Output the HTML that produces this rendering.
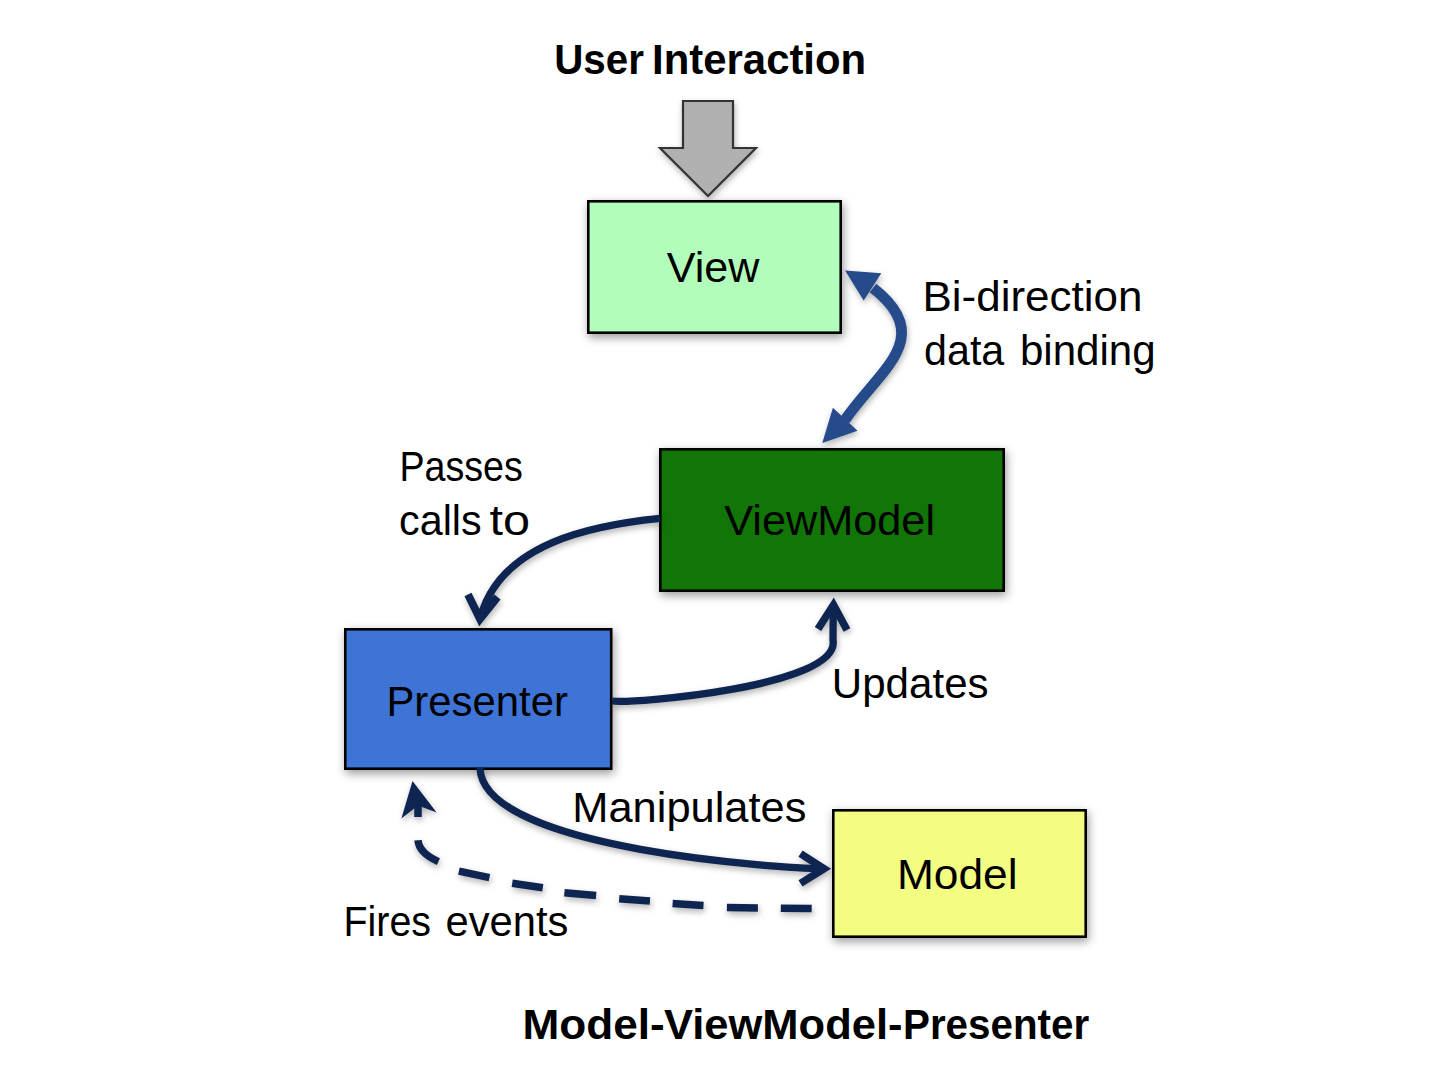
<!DOCTYPE html>
<html><head><meta charset="utf-8"><style>
html,body{margin:0;padding:0;background:#fff;}
svg{display:block;}
text{font-family:"Liberation Sans",sans-serif;font-size:43px;fill:#000;}
</style></head><body>
<svg width="1440" height="1080" viewBox="0 0 1440 1080">
<defs>
<filter id="sh" color-interpolation-filters="sRGB" x="-20%" y="-20%" width="140%" height="150%">
<feDropShadow dx="1.5" dy="3.5" stdDeviation="5" flood-color="#000" flood-opacity="0.4"/>
</filter>
<filter id="sha" color-interpolation-filters="sRGB" x="-30%" y="-30%" width="160%" height="160%">
<feDropShadow dx="1" dy="3" stdDeviation="3" flood-color="#000" flood-opacity="0.3"/>
</filter>
</defs>
<rect width="1440" height="1080" fill="#fff"/>
<!-- gray arrow -->
<path d="M683 101 L733 101 L733 148 L756 148 L708 196 L660 148 L683 148 Z" fill="#b0b0b0" stroke="#333" stroke-width="2.2" stroke-linejoin="miter" filter="url(#sha)"/>
<!-- boxes -->
<g filter="url(#sh)" stroke="#000" stroke-width="2.6">
<rect x="588.3" y="201.3" width="252.4" height="131.4" fill="#b2fdbb"/>
<rect x="660.3" y="449.3" width="343.4" height="141.4" fill="#117507"/>
<rect x="345.3" y="629.3" width="265.9" height="139.4" fill="#3d74d5"/>
<rect x="833.3" y="810.3" width="252.4" height="126.4" fill="#f3fd81"/>
</g>
<!-- arrows -->
<g filter="url(#sha)" fill="none" stroke="#0f2551" stroke-width="7.3">
<path d="M660 518.3 C594.7 524.9 499.4 542.1 480 619"/>
<path d="M468 594.5 L480 619 L497.5 597" stroke-linejoin="miter" stroke-width="7.8"/>
<path d="M612 701 C631 704 841.5 686.8 833 640 L833.3 606"/>
<path d="M818 629 L833.5 605 L847 630" stroke-linejoin="miter" stroke-width="7.6"/>
<path d="M480 768 C482.7 850.8 790.5 868.7 824 868.6"/>
<path d="M800.5 853.6 L824 868.7 L800.5 883.4" stroke-linejoin="miter" stroke-width="7.6"/>
<path d="M811.7 908.4 L780.8 908.2 M757.9 907.9 L726.9 907.6 M703.5 905.6 L672.6 903.6 M650 901 L619.2 898.8 M596.1 895.6 L564.4 892.8 M542.8 887.8 L512.2 883.3 M489.4 877.6 L458.9 871.1 M438.4 861.6 Q419 853 418 840.3 M418 817 L418 804" stroke-width="7.5"/>
<path d="M412.5 781 L436.6 812.5 L418 805.6 L401.4 818.5 Z" fill="#0f2551" stroke="none"/>
</g>
<g filter="url(#sha)">
<path d="M873 288 C937.5 338 877.6 371.5 845 420" fill="none" stroke="#264b8b" stroke-width="10.8"/>
<path d="M845 270.6 L881.3 273.2 L863.7 300.5 Z" fill="#264b8b"/>
<path d="M822.3 443 L832.9 407.8 L857.5 430.7 Z" fill="#264b8b"/>
</g>
<!-- text -->
<text transform="translate(554.19 73.70) scale(0.9380 1)" font-weight="700">User</text>
<text transform="translate(652.08 73.70) scale(0.9743 1)" font-weight="700">Interaction</text>
<text transform="translate(666.70 282.40) scale(1.0011 1)" font-weight="400">View</text>
<text transform="translate(922.51 310.80) scale(1.0226 1)" font-weight="400">Bi-direction</text>
<text transform="translate(924.08 364.80) scale(0.9585 1)" font-weight="400">data</text>
<text transform="translate(1019.97 364.80) scale(0.9782 1)" font-weight="400">binding</text>
<text transform="translate(399.50 481.00) scale(0.8750 1)" font-weight="400">Passes</text>
<text transform="translate(399.08 535.00) scale(0.9602 1)" font-weight="400">calls</text>
<text transform="translate(489.57 535.00) scale(1.1303 1)" font-weight="400">to</text>
<text transform="translate(724.20 535.30) scale(1.0063 1)" font-weight="400">ViewModel</text>
<text transform="translate(386.41 716.00) scale(0.9736 1)" font-weight="400">Presenter</text>
<text transform="translate(831.81 697.50) scale(0.9792 1)" font-weight="400">Updates</text>
<text transform="translate(572.21 821.50) scale(1.0108 1)" font-weight="400">Manipulates</text>
<text transform="translate(896.98 888.90) scale(1.0300 1)" font-weight="400">Model</text>
<text transform="translate(343.49 935.50) scale(0.9161 1)" font-weight="400">Fires</text>
<text transform="translate(445.46 935.50) scale(0.9707 1)" font-weight="400">events</text>
<text transform="translate(522.52 1038.50) scale(1.0276 1)" font-weight="700">Model-</text>
<text transform="translate(663.99 1038.50) scale(1.0120 1)" font-weight="700">ViewModel-</text>
<text transform="translate(902.98 1038.50) scale(0.9390 1)" font-weight="700">Presenter </text>
</svg>
</body></html>
